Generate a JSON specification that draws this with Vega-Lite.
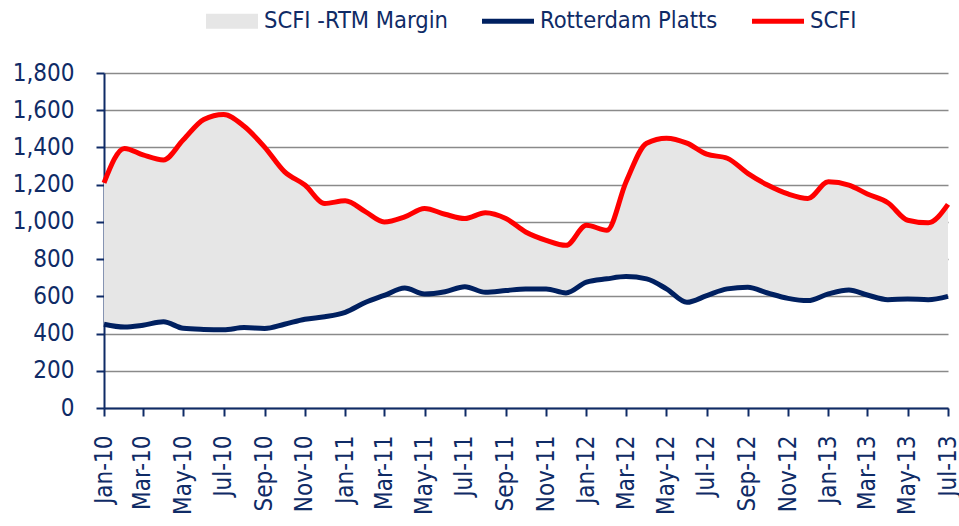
{
  "$schema": "https://vega.github.io/schema/vega-lite/v6.json",
  "width": 844,
  "height": 335,
  "autosize": {"type": "none"},
  "padding": {"left": 104, "top": 73, "right": 11, "bottom": 118},
  "background": "white",
  "config": {
    "view": {"stroke": null},
    "font": "DejaVu Sans Condensed",
    "axisY": {
      "values": [0, 200, 400, 600, 800, 1000, 1200, 1400, 1600, 1800],
      "format": ",.0f",
      "labelFontSize": 24,
      "labelColor": "#0f2b66",
      "labelPadding": 22,
      "labelOverlap": false,
      "grid": true,
      "gridColor": "#8a8a8a",
      "gridWidth": 1.5,
      "domainColor": "#0f2b66",
      "domainWidth": 2,
      "tickColor": "#0f2b66",
      "tickWidth": 2,
      "tickSize": 8,
      "title": null
    }
  },
  "data": {
    "values": [
      {"month": "2010-01-01", "scfi": 1210, "rtm": 450},
      {"month": "2010-02-01", "scfi": 1395, "rtm": 435},
      {"month": "2010-03-01", "scfi": 1360, "rtm": 445},
      {"month": "2010-04-01", "scfi": 1333, "rtm": 463},
      {"month": "2010-05-01", "scfi": 1441, "rtm": 428},
      {"month": "2010-06-01", "scfi": 1550, "rtm": 422},
      {"month": "2010-07-01", "scfi": 1577, "rtm": 420},
      {"month": "2010-08-01", "scfi": 1514, "rtm": 432},
      {"month": "2010-09-01", "scfi": 1402, "rtm": 427},
      {"month": "2010-10-01", "scfi": 1270, "rtm": 450},
      {"month": "2010-11-01", "scfi": 1198, "rtm": 477},
      {"month": "2010-12-01", "scfi": 1099, "rtm": 490},
      {"month": "2011-01-01", "scfi": 1113, "rtm": 514},
      {"month": "2011-02-01", "scfi": 1054, "rtm": 568},
      {"month": "2011-03-01", "scfi": 1000, "rtm": 605},
      {"month": "2011-04-01", "scfi": 1027, "rtm": 645},
      {"month": "2011-05-01", "scfi": 1072, "rtm": 613},
      {"month": "2011-06-01", "scfi": 1041, "rtm": 625},
      {"month": "2011-07-01", "scfi": 1018, "rtm": 652},
      {"month": "2011-08-01", "scfi": 1049, "rtm": 622},
      {"month": "2011-09-01", "scfi": 1018, "rtm": 631},
      {"month": "2011-10-01", "scfi": 946, "rtm": 640},
      {"month": "2011-11-01", "scfi": 901, "rtm": 640},
      {"month": "2011-12-01", "scfi": 874, "rtm": 618},
      {"month": "2012-01-01", "scfi": 982, "rtm": 676},
      {"month": "2012-02-01", "scfi": 955, "rtm": 694},
      {"month": "2012-03-01", "scfi": 1216, "rtm": 706},
      {"month": "2012-04-01", "scfi": 1423, "rtm": 694},
      {"month": "2012-05-01", "scfi": 1450, "rtm": 640},
      {"month": "2012-06-01", "scfi": 1423, "rtm": 568},
      {"month": "2012-07-01", "scfi": 1364, "rtm": 604},
      {"month": "2012-08-01", "scfi": 1342, "rtm": 640},
      {"month": "2012-09-01", "scfi": 1261, "rtm": 649},
      {"month": "2012-10-01", "scfi": 1198, "rtm": 618},
      {"month": "2012-11-01", "scfi": 1150, "rtm": 589},
      {"month": "2012-12-01", "scfi": 1126, "rtm": 577},
      {"month": "2013-01-01", "scfi": 1216, "rtm": 613},
      {"month": "2013-02-01", "scfi": 1198, "rtm": 634},
      {"month": "2013-03-01", "scfi": 1150, "rtm": 607},
      {"month": "2013-04-01", "scfi": 1103, "rtm": 582},
      {"month": "2013-05-01", "scfi": 1009, "rtm": 586},
      {"month": "2013-06-01", "scfi": 995, "rtm": 582},
      {"month": "2013-07-01", "scfi": 1094, "rtm": 600}
    ]
  },
  "encoding": {
    "x": {
      "field": "month",
      "type": "temporal",
      "title": null,
      "scale": {
        "type": "utc",
        "domain": [
          {"year": 2010, "month": 1, "date": 1, "utc": true},
          {"year": 2013, "month": 7, "date": 1, "utc": true}
        ],
        "nice": false
      },
      "axis": {
        "format": "%b-%y",
        "tickCount": {"interval": "month", "step": 2},
        "labelAngle": -90,
        "labelFontSize": 24,
        "labelColor": "#0f2b66",
        "labelPadding": 19,
        "labelOverlap": false,
        "labelBound": false,
        "labelFlush": false,
        "grid": false,
        "domainColor": "#0f2b66",
        "domainWidth": 2,
        "tickColor": "#0f2b66",
        "tickWidth": 2,
        "tickSize": 8
      }
    }
  },
  "layer": [
    {
      "mark": {"type": "area", "interpolate": "monotone", "color": "#e6e6e6"},
      "encoding": {
        "y": {
          "field": "scfi",
          "type": "quantitative",
          "title": null,
          "scale": {"domain": [0, 1800], "nice": false}
        },
        "y2": {"field": "rtm"}
      }
    },
    {
      "mark": {"type": "line", "interpolate": "monotone", "strokeWidth": 5},
      "encoding": {
        "y": {"field": "rtm", "type": "quantitative", "title": null},
        "color": {
          "datum": "Rotterdam Platts",
          "scale": {
            "domain": ["SCFI -RTM Margin", "Rotterdam Platts", "SCFI"],
            "range": ["#e6e6e6", "#002060", "#ff0000"]
          },
          "legend": {
            "title": null,
            "orient": "none",
            "direction": "horizontal",
            "padding": 0,
            "legendX": 102,
            "legendY": -78,
            "symbolSize": 2704,
            "labelFontSize": 23.5,
            "labelLimit": 400,
            "labelColor": "#0f2b66",
            "labelOffset": 6,
            "columnPadding": 34,
            "encode": {
              "symbols": {
                "update": {
                  "shape": {"signal": "datum.value === 'SCFI -RTM Margin' ? 'M-1,-0.29H1V0.29H-1Z' : 'M-1,-0.1H1V0.1H-1Z'"},
                  "fill": {"signal": "datum.value === 'SCFI' ? '#ff0000' : datum.value === 'Rotterdam Platts' ? '#002060' : '#e6e6e6'"},
                  "fillOpacity": {"value": 1},
                  "stroke": {"value": "transparent"},
                  "strokeWidth": {"value": 0}
                }
              }
            }
          }
        }
      }
    },
    {
      "mark": {"type": "line", "interpolate": "monotone", "strokeWidth": 5},
      "encoding": {
        "y": {"field": "scfi", "type": "quantitative", "title": null},
        "color": {"datum": "SCFI"}
      }
    }
  ]
}
